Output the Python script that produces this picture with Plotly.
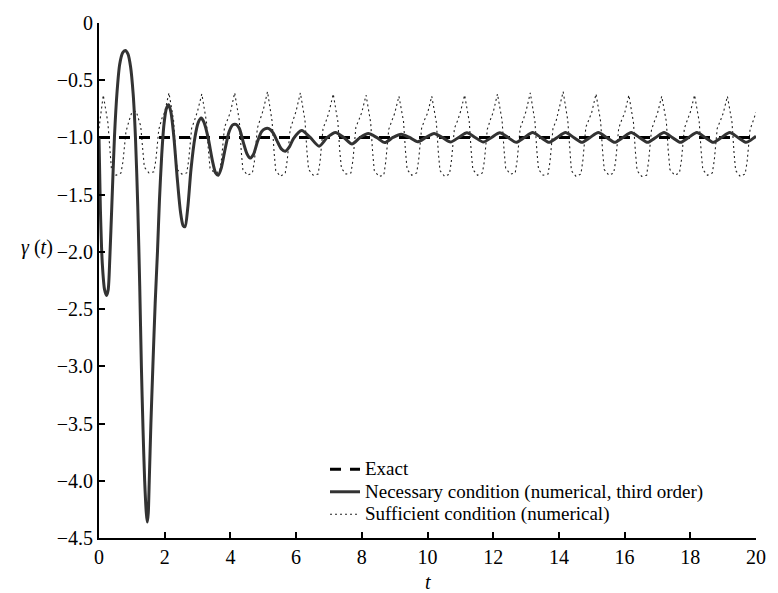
import plotly.graph_objects as go

# ---- data ----
exact_t = [0, 20]
exact_y = [-1.0, -1.0]

nec_t = [0.00, 0.04, 0.10, 0.17, 0.23, 0.28, 0.33, 0.39, 0.47, 0.55, 0.63, 0.72, 0.80, 0.88, 0.96,
         1.04, 1.11, 1.18, 1.24, 1.29, 1.34, 1.39, 1.44, 1.47, 1.50, 1.53, 1.58, 1.64, 1.71, 1.78,
         1.84, 1.91, 1.98, 2.05, 2.12, 2.19, 2.28, 2.38, 2.48, 2.56, 2.62, 2.70, 2.80, 2.92, 3.02,
         3.11, 3.20, 3.32, 3.45, 3.55, 3.63, 3.72, 3.84, 3.96, 4.07, 4.17, 4.27, 4.40, 4.50, 4.60,
         4.70, 4.82, 4.95, 5.05, 5.17, 5.30, 5.42, 5.55, 5.67, 5.80, 5.92,
         6.17, 6.43, 6.70, 6.95, 7.20, 7.45, 7.70, 7.95, 8.20, 8.45, 8.70, 8.95,
         9.20, 9.45, 9.70, 9.95, 10.20, 10.45, 10.70, 10.95, 11.20, 11.45, 11.70, 11.95,
         12.20, 12.45, 12.70, 12.95, 13.20, 13.45, 13.70, 13.95, 14.20, 14.45, 14.70, 14.95,
         15.20, 15.45, 15.70, 15.95, 16.20, 16.45, 16.70, 16.95, 17.20, 17.45, 17.70, 17.95,
         18.20, 18.45, 18.70, 18.95, 19.20, 19.45, 19.70, 19.95, 20.00]
nec_y = [-1.00, -1.60, -2.10, -2.33, -2.38, -2.33, -2.05, -1.60, -1.00, -0.60, -0.36, -0.26, -0.24, -0.27, -0.38,
         -0.62, -1.00, -1.60, -2.30, -3.00, -3.55, -4.00, -4.28, -4.36, -4.28, -4.00, -3.50, -3.00, -2.45, -2.00,
         -1.55, -1.15, -0.88, -0.75, -0.715, -0.78, -1.00, -1.35, -1.65, -1.77, -1.78, -1.62, -1.28, -1.00, -0.87,
         -0.83, -0.87, -1.00, -1.20, -1.31, -1.33, -1.27, -1.10, -0.95, -0.89, -0.886, -0.92, -1.05, -1.14, -1.18,
         -1.15, -1.04, -0.95, -0.925, -0.923, -0.96, -1.03, -1.10, -1.12, -1.08, -1.01,
         -0.940, -1.00, -1.077, -1.00, -0.957, -1.00, -1.057, -1.00, -0.966, -1.00, -1.045, -1.00,
         -0.972, -1.00, -1.038, -1.00, -0.965, -1.00, -1.040, -1.00, -0.960, -1.00, -1.040, -1.00,
         -0.960, -1.00, -1.043, -1.00, -0.957, -1.00, -1.043, -1.00, -0.957, -1.00, -1.043, -1.00,
         -0.957, -1.00, -1.043, -1.00, -0.957, -1.00, -1.043, -1.00, -0.957, -1.00, -1.043, -1.00,
         -0.957, -1.00, -1.043, -1.00, -0.957, -1.00, -1.043, -1.00, -0.99]

suf_t = [0.00, 0.13, 0.27, 0.33, 0.38, 0.52, 0.67, 0.73, 0.82, 0.92,
         1.00, 1.13, 1.27, 1.33, 1.38, 1.52, 1.67, 1.73, 1.82, 1.92,
         2.00, 2.13, 2.27, 2.33, 2.38, 2.52, 2.67, 2.73, 2.82, 2.92,
         3.00, 3.13, 3.27, 3.33, 3.38, 3.52, 3.67, 3.73, 3.82, 3.92,
         4.00, 4.13, 4.27, 4.33, 4.38, 4.52, 4.67, 4.73, 4.82, 4.92,
         5.00, 5.13, 5.27, 5.33, 5.38, 5.52, 5.67, 5.73, 5.82, 5.92,
         6.00, 6.13, 6.27, 6.33, 6.38, 6.52, 6.67, 6.73, 6.82, 6.92,
         7.00, 7.13, 7.27, 7.33, 7.38, 7.52, 7.67, 7.73, 7.82, 7.92,
         8.00, 8.13, 8.27, 8.33, 8.38, 8.52, 8.67, 8.73, 8.82, 8.92,
         9.00, 9.13, 9.27, 9.33, 9.38, 9.52, 9.67, 9.73, 9.82, 9.92,
         10.00, 10.13, 10.27, 10.33, 10.38, 10.52, 10.67, 10.73, 10.82, 10.92,
         11.00, 11.13, 11.27, 11.33, 11.38, 11.52, 11.67, 11.73, 11.82, 11.92,
         12.00, 12.13, 12.27, 12.33, 12.38, 12.52, 12.67, 12.73, 12.82, 12.92,
         13.00, 13.13, 13.27, 13.33, 13.38, 13.52, 13.67, 13.73, 13.82, 13.92,
         14.00, 14.13, 14.27, 14.33, 14.38, 14.52, 14.67, 14.73, 14.82, 14.92,
         15.00, 15.13, 15.27, 15.33, 15.38, 15.52, 15.67, 15.73, 15.82, 15.92,
         16.00, 16.13, 16.27, 16.33, 16.38, 16.52, 16.67, 16.73, 16.82, 16.92,
         17.00, 17.13, 17.27, 17.33, 17.38, 17.52, 17.67, 17.73, 17.82, 17.92,
         18.00, 18.13, 18.27, 18.33, 18.38, 18.52, 18.67, 18.73, 18.82, 18.92,
         19.00, 19.13, 19.27, 19.33, 19.38, 19.52, 19.67, 19.73, 19.82, 19.92,
         20.00]
suf_y = [-0.92, -0.63, -0.87, -1.13, -1.28, -1.33, -1.31, -1.21, -0.95, -0.85,
         -0.78, -0.77, -0.90, -1.10, -1.26, -1.31, -1.30, -1.20, -0.93, -0.83,
         -0.78, -0.61, -0.85, -1.12, -1.28, -1.32, -1.31, -1.20, -0.92, -0.84,
         -0.77, -0.62, -0.86, -1.11, -1.27, -1.31, -1.30, -1.19, -0.91, -0.84,
         -0.78, -0.61, -0.85, -1.12, -1.28, -1.33, -1.31, -1.21, -0.92, -0.83,
         -0.76, -0.60, -0.86, -1.13, -1.29, -1.34, -1.31, -1.20, -0.93, -0.84,
         -0.77, -0.61, -0.85, -1.12, -1.28, -1.33, -1.32, -1.21, -0.92, -0.85,
         -0.78, -0.62, -0.86, -1.12, -1.27, -1.32, -1.31, -1.20, -0.91, -0.84,
         -0.78, -0.63, -0.87, -1.13, -1.29, -1.34, -1.33, -1.21, -0.93, -0.85,
         -0.79, -0.64, -0.86, -1.12, -1.28, -1.33, -1.31, -1.20, -0.92, -0.84,
         -0.79, -0.64, -0.87, -1.13, -1.29, -1.34, -1.32, -1.20, -0.92, -0.85,
         -0.78, -0.63, -0.86, -1.12, -1.28, -1.33, -1.31, -1.21, -0.93, -0.84,
         -0.78, -0.62, -0.85, -1.11, -1.27, -1.32, -1.31, -1.20, -0.92, -0.84,
         -0.77, -0.61, -0.86, -1.12, -1.28, -1.33, -1.32, -1.21, -0.92, -0.85,
         -0.76, -0.60, -0.85, -1.13, -1.29, -1.34, -1.32, -1.20, -0.91, -0.84,
         -0.78, -0.62, -0.86, -1.12, -1.28, -1.33, -1.31, -1.20, -0.92, -0.84,
         -0.79, -0.63, -0.87, -1.13, -1.29, -1.34, -1.33, -1.21, -0.93, -0.85,
         -0.79, -0.64, -0.86, -1.12, -1.28, -1.33, -1.31, -1.20, -0.92, -0.84,
         -0.78, -0.63, -0.86, -1.12, -1.28, -1.33, -1.31, -1.20, -0.92, -0.85,
         -0.79, -0.64, -0.87, -1.13, -1.29, -1.34, -1.32, -1.21, -0.93, -0.85,
         -0.78]

x_ticks = [0, 2, 4, 6, 8, 10, 12, 14, 16, 18, 20]
y_ticks = [0, -0.5, -1.0, -1.5, -2.0, -2.5, -3.0, -3.5, -4.0, -4.5]
y_ticktext = ["0", "\u22120.5", "\u22121.0", "\u22121.5", "\u22122.0", "\u22122.5",
              "\u22123.0", "\u22123.5", "\u22124.0", "\u22124.5"]

names = ["Exact", "Necessary condition (numerical, third order)", "Sufficient condition (numerical)"]

FONT = "Liberation Serif"

def lbl(s):
    return '<span style="font-size:19px">' + s + '</span>'

fig = go.Figure()
fig.add_trace(go.Scatter(x=suf_t, y=suf_y, mode="lines", name=lbl(names[2]), legendrank=3,
                         line=dict(color="#222222", width=1.1, dash="2px,3px")))
fig.add_trace(go.Scatter(x=exact_t, y=exact_y, mode="lines", name=lbl(names[0]), legendrank=1,
                         line=dict(color="black", width=3, dash="11px,9px")))
fig.add_trace(go.Scatter(x=nec_t, y=nec_y, mode="lines", name=lbl(names[1]), legendrank=2,
                         line=dict(color="#333333", width=3, shape="spline", smoothing=0.7)))

fig.update_layout(
    width=778, height=593, autosize=False,
    margin=dict(l=99, r=12, t=13, b=55),
    paper_bgcolor="white", plot_bgcolor="white",
    font=dict(family=FONT, size=20, color="black"),
    showlegend=True,
    legend=dict(x=0.344, y=0.165, xanchor="left", yanchor="top",
                bgcolor="rgba(0,0,0,0)", borderwidth=0,
                font=dict(family=FONT, size=15, color="black"),
                traceorder="normal", itemwidth=30),
    xaxis=dict(range=[0, 20], tickvals=x_ticks, ticks="inside", ticklen=6, tickwidth=1.5,
               tickcolor="black", showline=True, linecolor="black", linewidth=2,
               showgrid=False, zeroline=False, mirror=False,
               tickfont=dict(family=FONT, size=20), title=None),
    yaxis=dict(range=[-4.5, 0], tickvals=y_ticks, ticktext=y_ticktext, ticks="inside",
               ticklen=6, tickwidth=1.5, tickcolor="black", showline=True, linecolor="black",
               linewidth=2, showgrid=False, zeroline=False, mirror=False,
               tickfont=dict(family=FONT, size=20), title=None),
)

fig.add_annotation(text="<i>t</i>", xref="paper", yref="paper", x=0.5, y=-0.085,
                   xanchor="center", yanchor="middle", showarrow=False,
                   font=dict(family=FONT, size=20))
fig.add_annotation(text="<i>\u03b3</i> (<i>t</i>)", xref="paper", yref="paper", x=-0.095, y=0.565,
                   xanchor="center", yanchor="middle", showarrow=False,
                   font=dict(family=FONT, size=20))

fig.write_html("out.html")
